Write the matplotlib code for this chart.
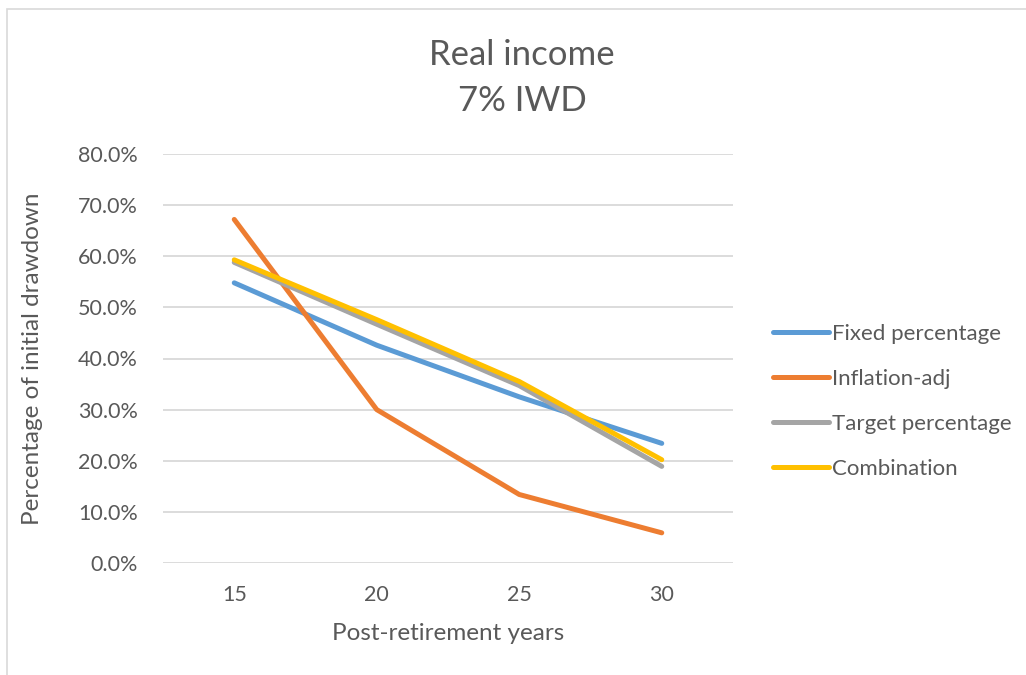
import matplotlib.pyplot as plt
from matplotlib.patches import Rectangle
from matplotlib.ticker import FuncFormatter

# data
years = [15, 20, 25, 30]
fixed_pct = [54.8, 42.6, 32.5, 23.4]
inflation_adj = [67.2, 30.0, 13.4, 5.9]
target_pct = [58.8, 46.7, 34.7, 18.9]
combination = [59.3, 47.6, 35.5, 20.2]

series = [
    ('Fixed percentage', fixed_pct, '#5B9BD5'),
    ('Inflation-adj', inflation_adj, '#ED7D31'),
    ('Target percentage', target_pct, '#A5A5A5'),
    ('Combination', combination, '#FFC000'),
]

text_col = '#595959'
plt.rcParams['font.family'] = ['Lato', 'DejaVu Sans']

fig = plt.figure(figsize=(10.26, 6.75), dpi=100)
ax = fig.add_axes([163 / 1026, 1 - 563 / 675, 570 / 1026, 409 / 675])

# outer chart border
fig.patches.append(Rectangle((7 / 1026, -0.01), 1.1, 1 - 9 / 675 + 0.01,
                             transform=fig.transFigure, fill=False,
                             edgecolor='#D9D9D9', linewidth=1.2))

for name, vals, col in series:
    ax.plot(years, vals, color=col, linewidth=3.6, label=name,
            solid_capstyle='round', solid_joinstyle='round')

ax.set_xlim(12.5, 32.5)
ax.set_ylim(0, 80)
ax.set_xticks(years)
ax.set_yticks(range(0, 81, 10))
ax.yaxis.set_major_formatter(FuncFormatter(lambda v, p: f'{v:.1f}%'))
ax.grid(axis='y', color='#D9D9D9', linewidth=1.3)
ax.set_axisbelow(True)
for s in ax.spines.values():
    s.set_visible(False)
ax.tick_params(length=0, labelsize=15.5, colors=text_col)
ax.tick_params(axis='y', pad=18)
ax.tick_params(axis='x', pad=16)

ax.set_xlabel('Post-retirement years', fontsize=17.5, color=text_col, labelpad=13)
ax.set_ylabel('Percentage of initial drawdown', fontsize=17.5, color=text_col, labelpad=25)

fig.text(522 / 1026, 1 - 55 / 675, 'Real income', ha='center', va='center',
         fontsize=25, color=text_col)
fig.text(522 / 1026, 1 - 101 / 675, '7% IWD', ha='center', va='center',
         fontsize=25, color=text_col)

leg = ax.legend(loc='center left', bbox_to_anchor=(1.035, 0.395), frameon=False,
                fontsize=16, handlelength=2.5, handletextpad=0.15,
                labelspacing=1.12, labelcolor=text_col)

fig.savefig('out.png', dpi=100, facecolor='white')
